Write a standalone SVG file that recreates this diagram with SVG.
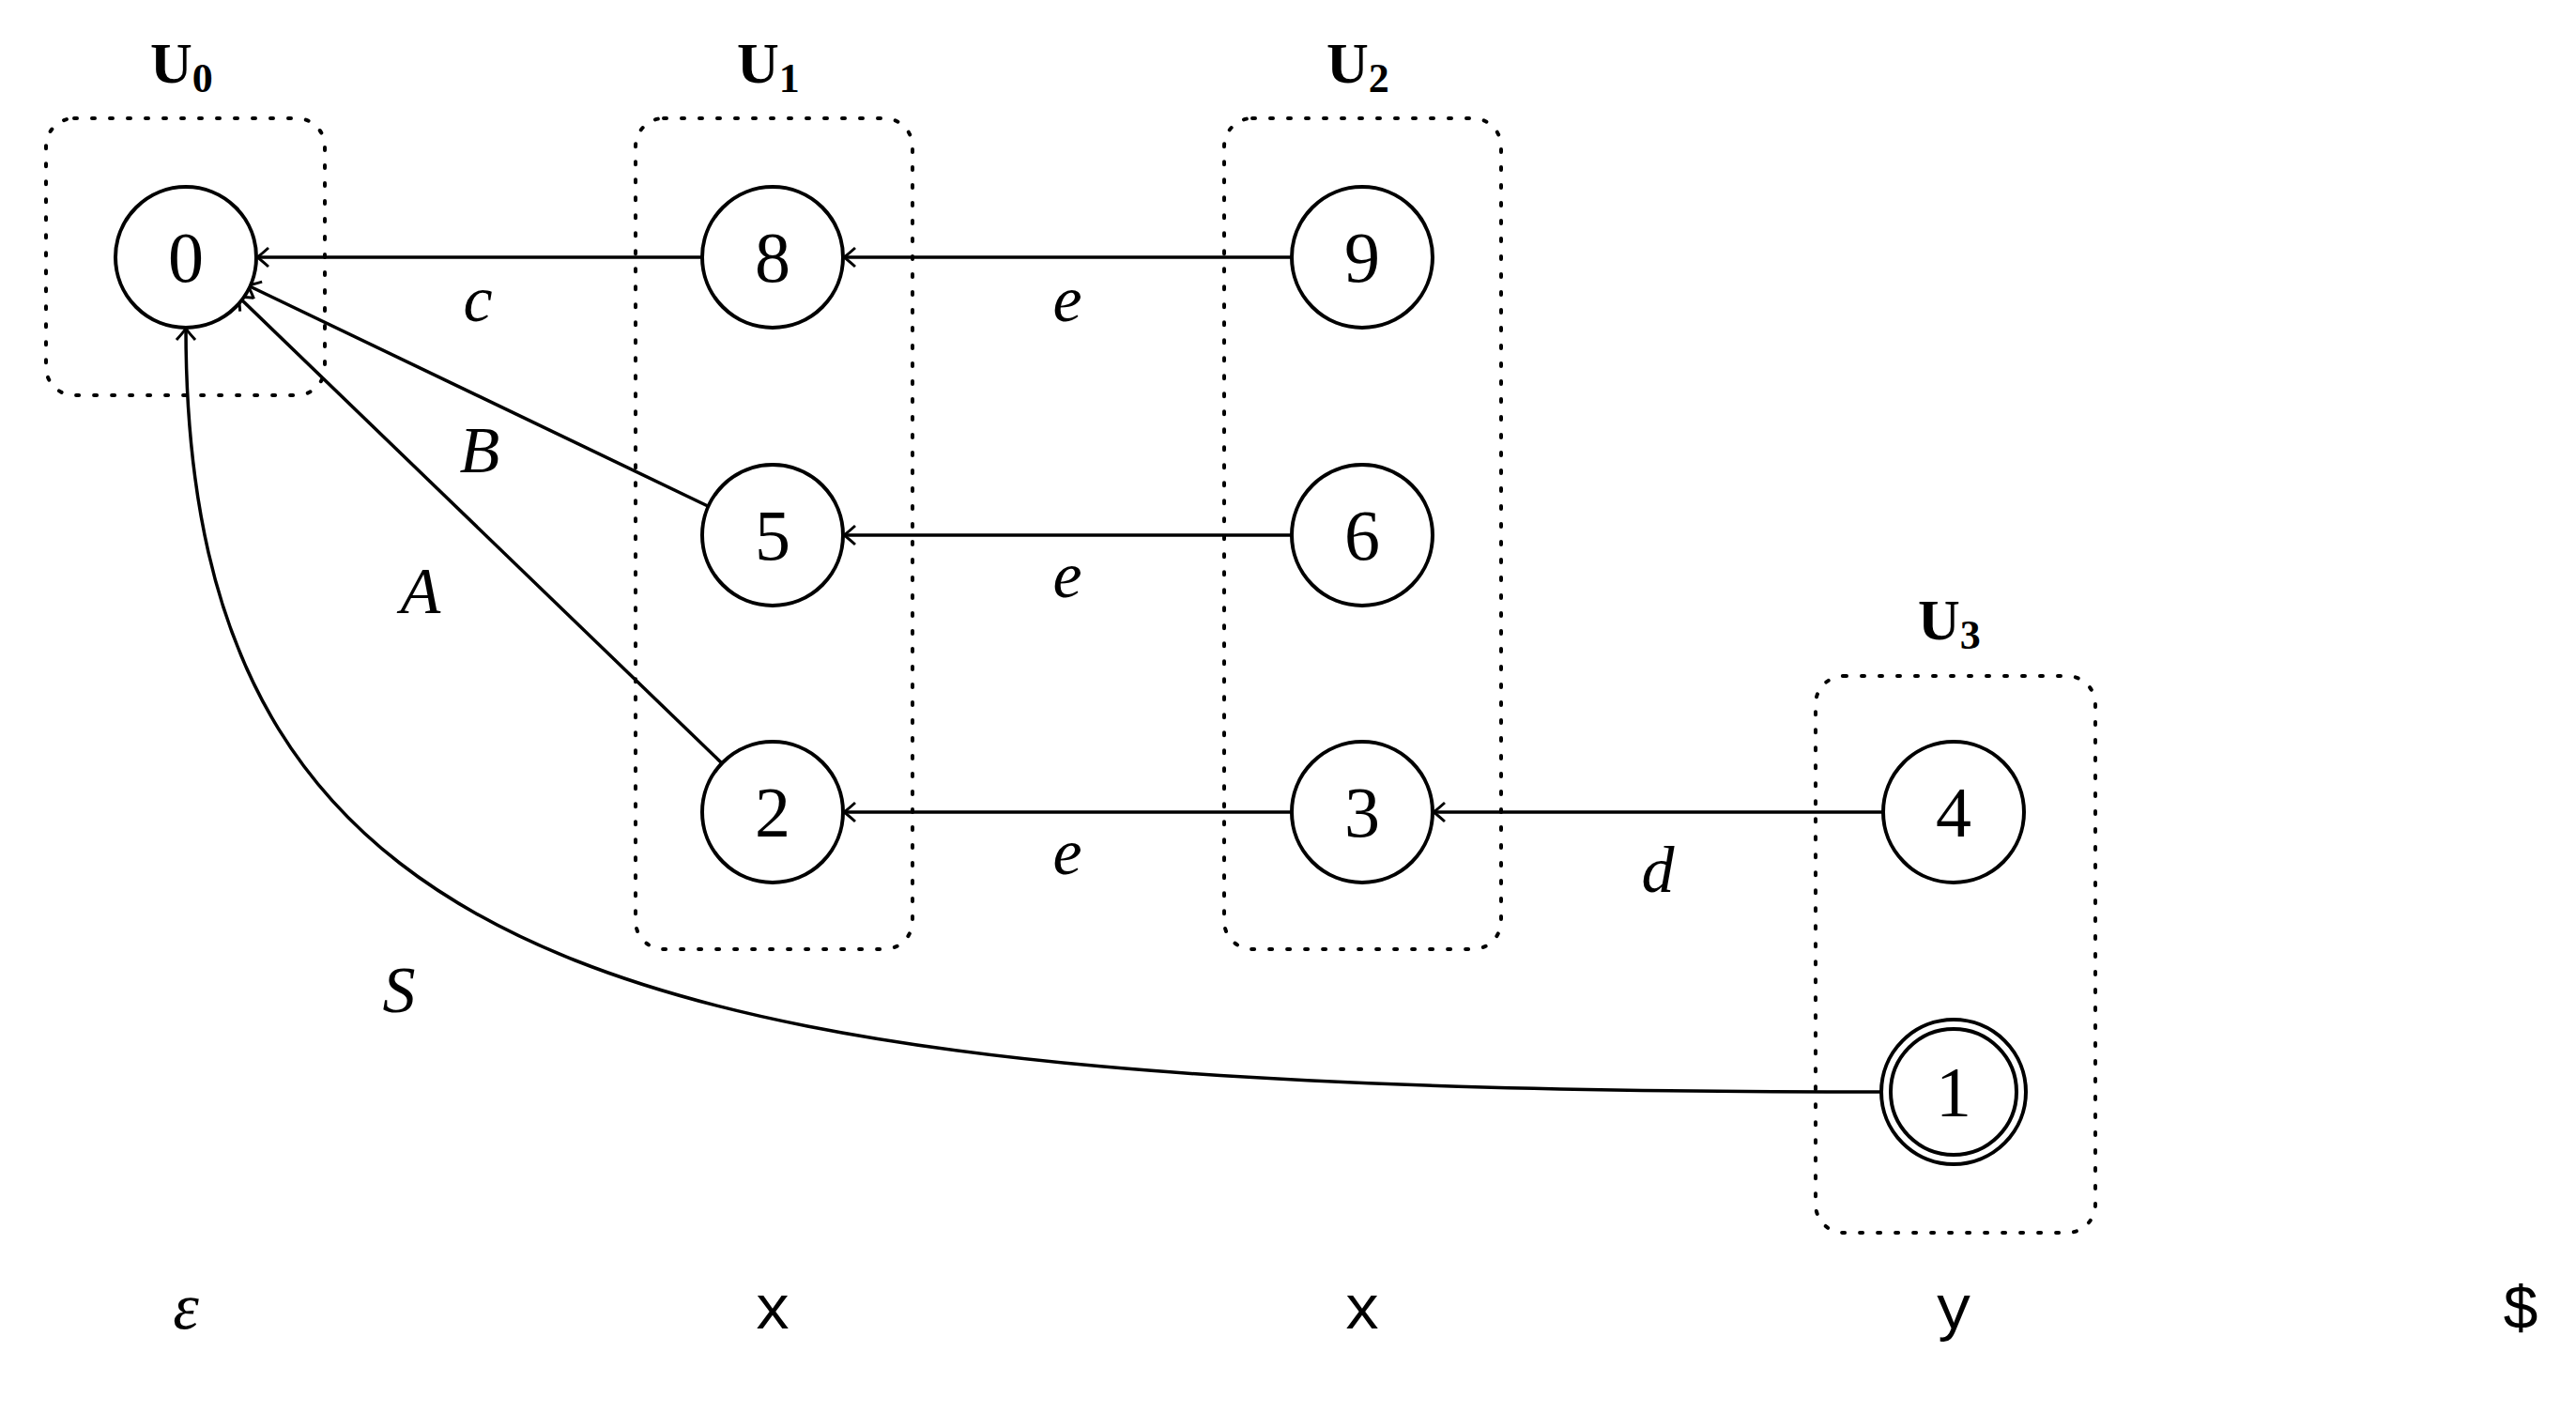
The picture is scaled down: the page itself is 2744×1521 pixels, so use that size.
<svg xmlns="http://www.w3.org/2000/svg" width="2744" height="1521" viewBox="0 0 2744 1521">
<defs>
<marker id="ah" viewBox="-14 -12 16 24" markerWidth="16" markerHeight="24" refX="0" refY="0" orient="auto" markerUnits="userSpaceOnUse">
<path d="M-12,-10 Q-3,-2 0,0 Q-3,2 -12,10" fill="none" stroke="#000" stroke-width="3"/>
</marker>
<style>
.n{fill:#fff;stroke:#000;stroke-width:4}
.b{fill:none;stroke:#000;stroke-width:4;stroke-dasharray:3 16;stroke-linecap:round}
.e{fill:none;stroke:#000;stroke-width:3.5;marker-end:url(#ah)}
.t{font-family:"Liberation Serif",serif;font-size:76px;text-anchor:middle}
.l{font-family:"Liberation Serif",serif;font-size:70px;font-style:italic;text-anchor:middle}
.u{font-family:"Liberation Serif",serif;font-size:62px;font-weight:bold}
.s{font-family:"Liberation Serif",serif;font-size:44px}
.m{font-family:"Liberation Mono",monospace;font-size:66px;text-anchor:middle}
</style>
</defs>
<g id="boxes">
<rect class="b" x="49" y="126" width="297" height="295" rx="30"/>
<rect class="b" x="677" y="126" width="295" height="885" rx="30"/>
<rect class="b" x="1304" y="126" width="295" height="885" rx="30"/>
<rect class="b" x="1934" y="720" width="298" height="593" rx="30"/>
<text class="u" x="160" y="88">U<tspan class="s" dy="10">0</tspan></text>
<text class="u" x="785" y="88">U<tspan class="s" dy="10">1</tspan></text>
<text class="u" x="1413" y="88">U<tspan class="s" dy="10">2</tspan></text>
<text class="u" x="2043" y="681">U<tspan class="s" dy="10">3</tspan></text>
</g>
<g id="connectors">
<line class="e" x1="748" y1="274" x2="274" y2="274"/>
<line class="e" x1="1376" y1="274" x2="899" y2="274"/>
<line class="e" x1="1376" y1="570" x2="899" y2="570"/>
<line class="e" x1="1376" y1="865" x2="899" y2="865"/>
<line class="e" x1="2006" y1="865" x2="1527" y2="865"/>
<line class="e" x1="756" y1="540" x2="264" y2="304"/>
<line class="e" x1="769" y1="813" x2="254" y2="316"/>
<path class="e" d="M2006,1163 C700,1163 198,1060 198,350"/>
<text class="l" x="509" y="342">c</text>
<text class="l" x="1137" y="342">e</text>
<text class="l" x="1137" y="636">e</text>
<text class="l" x="1137" y="931">e</text>
<text class="l" x="1766" y="950">d</text>
<text class="l" x="511" y="503">B</text>
<text class="l" x="448" y="653">A</text>
<text class="l" x="425" y="1078">S</text>
</g>
<g id="n0"><circle class="n" cx="198" cy="274" r="75"/><text class="t" x="198" y="300">0</text></g>
<g id="n8"><circle class="n" cx="823" cy="274" r="75"/><text class="t" x="823" y="300">8</text></g>
<g id="n9"><circle class="n" cx="1451" cy="274" r="75"/><text class="t" x="1451" y="300">9</text></g>
<g id="n5"><circle class="n" cx="823" cy="570" r="75"/><text class="t" x="823" y="596">5</text></g>
<g id="n6"><circle class="n" cx="1451" cy="570" r="75"/><text class="t" x="1451" y="596">6</text></g>
<g id="n2"><circle class="n" cx="823" cy="865" r="75"/><text class="t" x="823" y="891">2</text></g>
<g id="n3"><circle class="n" cx="1451" cy="865" r="75"/><text class="t" x="1451" y="891">3</text></g>
<g id="n4"><circle class="n" cx="2081" cy="865" r="75"/><text class="t" x="2081" y="891">4</text></g>
<g id="n1"><circle class="n" cx="2081" cy="1163" r="77"/><circle class="n" cx="2081" cy="1163" r="67"/><text class="t" x="2081" y="1189">1</text></g>
<g id="input">
<text class="l" x="198" y="1415">ε</text>
<text class="m" x="823" y="1415">x</text>
<text class="m" x="1451" y="1415">x</text>
<text class="m" x="2081" y="1415">y</text>
<text class="m" x="2685" y="1415">$</text>
</g>
</svg>
